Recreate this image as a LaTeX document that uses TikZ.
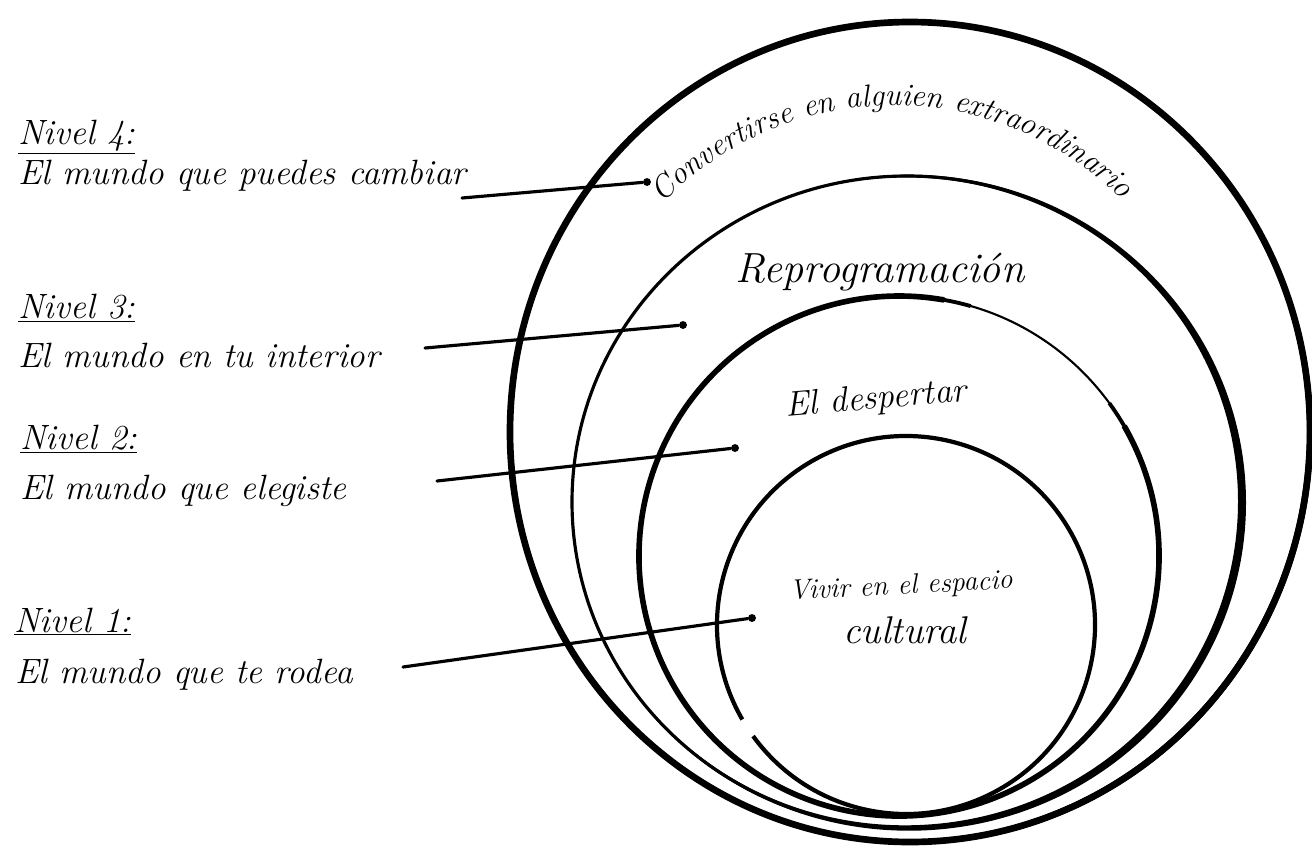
\documentclass[tikz,border=0pt]{standalone}
\usetikzlibrary{decorations.text}

\begin{document}
\begin{tikzpicture}[x=0.02cm, y=-0.02cm]
\tikzstyle{ring} = [draw = black, line width = 3pt]
\tikzstyle{levelname} = [anchor = base west, inner sep = 0pt, font = \fontsize{20}{24}\selectfont\itshape]
\tikzstyle{leveltext} = [anchor = base west, inner sep = 0pt, font = \fontsize{20}{24}\selectfont\itshape]
\tikzstyle{inside} = [inner sep = 0pt, font = \itshape]
\tikzstyle{leader} = [line width = 1.8pt, line cap = round]
\tikzstyle{enddot} = [circle, fill = black, inner sep = 0pt, minimum size = 4.5pt]

\useasboundingbox (0, 0) rectangle (1312, 849);
% -----------------------------------
% Rings (a thin stroke, thickened on one side)
\draw[ring, line width = 3.8pt] (910, 432) ellipse [x radius = 400, y radius = 410];
\fill[even odd rule] (911.5, 433) ellipse [x radius = 401.5, y radius = 411.5]
  (908.5, 431) ellipse [x radius = 398.5, y radius = 408.5];

\draw[ring, line width = 1.8pt] (907, 502) ellipse [x radius = 335, y radius = 326];
\fill[even odd rule] (909, 502.7) ellipse [x radius = 337, y radius = 328]
  (905, 501.3) ellipse [x radius = 333, y radius = 324];

\draw[ring, line width = 1.2pt] (899, 556) circle [radius = 260];
\draw[ring, line width = 2.2pt] (899, 556) ++(-36:260) arc [start angle = -36, end angle = 286, radius = 260];
\draw[ring, line width = 3.2pt] (899, 556) ++(-30:260) arc [start angle = -30, end angle = 280, radius = 260];

\draw[ring, line width = 2.4pt] (906, 625) ++(150:189) arc [start angle = 150, end angle = 504, radius = 189];

% -----------------------------------
% Ring texts
\path[decorate, decoration = {text along path, text align = center,
  text = {|\fontsize{18}{21}\selectfont\itshape|Convertirse en alguien extraordinario}}]
  (655, 212) arc [start angle = -138, end angle = -43, radius = 322];
\node[inside, font = \fontsize{24}{28}\selectfont\itshape] (reprog) at (880, 272) {Reprogramación};
\node[inside, font = \fontsize{20}{24}\selectfont\itshape, rotate = 5] (despertar) at (876, 400) {El despertar};
\node[inside, font = \fontsize{16}{19}\selectfont\itshape, rotate = 3] (vivir) at (901, 587) {Vivir en el espacio};
\node[inside, font = \fontsize{22}{26}\selectfont\itshape] (cultural) at (905, 630) {cultural};

% -----------------------------------
% Level 4
\node[levelname] (n4) at (18, 144) {\underline{Nivel 4:}};
\node[leveltext] (t4) at (18, 184) {El mundo que puedes cambiar};
\coordinate (s4) at (462, 198);
\node[enddot] (d4) at (647, 182) {};
\draw[leader] (s4)--(d4);

% -----------------------------------
% Level 3
\node[levelname] (n3) at (18, 318) {\underline{Nivel 3:}};
\node[leveltext] (t3) at (18, 367) {El mundo en tu interior};
\coordinate (s3) at (425, 348);
\node[enddot] (d3) at (683, 325) {};
\draw[leader] (s3)--(d3);

% -----------------------------------
% Level 2
\node[levelname] (n2) at (20, 449) {\underline{Nivel 2:}};
\node[leveltext] (t2) at (20, 499) {El mundo que elegiste};
\coordinate (s2) at (437, 481);
\node[enddot] (d2) at (735, 448) {};
\draw[leader] (s2)--(d2);

% -----------------------------------
% Level 1
\node[levelname] (n1) at (14, 632) {\underline{Nivel 1:}};
\node[leveltext] (t1) at (15, 683) {El mundo que te rodea};
\coordinate (s1) at (403, 667);
\node[enddot] (d1) at (752, 618) {};
\draw[leader] (s1)--(d1);
% -----------------------------------
\end{tikzpicture}
\end{document}
